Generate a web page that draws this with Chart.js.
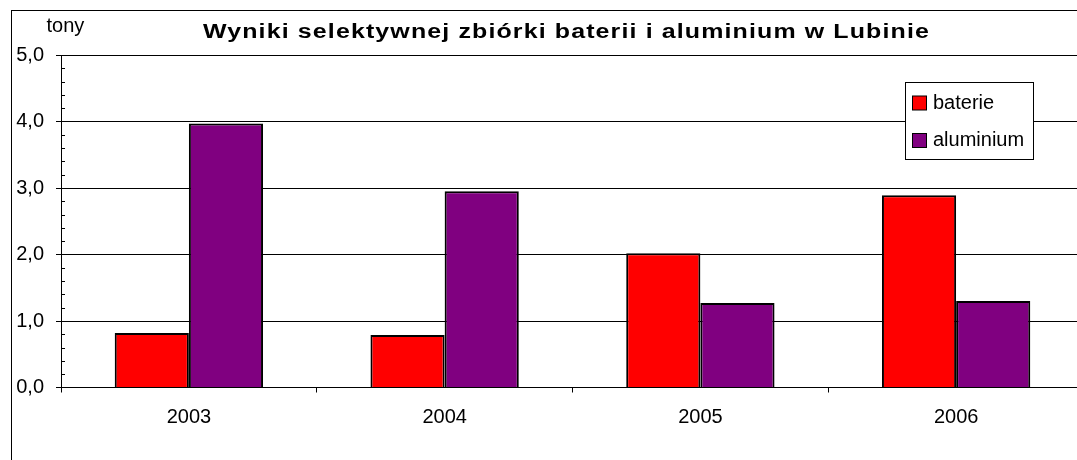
<!DOCTYPE html>
<html>
<head>
<meta charset="utf-8">
<script src="https://cdn.jsdelivr.net/npm/chart.js@4.4.0/dist/chart.umd.min.js"></script>
<style>
  html, body { margin: 0; padding: 0; overflow: hidden; background: #fff; width: 1077px; height: 460px; }
  #frame { position: absolute; left: 11px; top: 10px; border-left: 1px solid #000; border-top: 1px solid #000; }
  canvas { display: block; }
</style>
</head>
<body>
<div id="frame"><canvas id="barChart" width="1110" height="470"></canvas></div>
<script>
// Data
const years = ['2003', '2004', '2005', '2006'];
const baterie = [0.82, 0.79, 2.02, 2.89];
const aluminium = [3.97, 2.95, 1.27, 1.30];
const yTicks = [0, 1, 2, 3, 4, 5];

const FONT = 'Liberation Sans, Arial, sans-serif';
const TITLE = 'Wyniki selektywnej zbiórki baterii i aluminium w Lubinie';

// title, unit label, minor ticks and the legend box inside the plot
const extras = {
    id: 'extras',
    afterDraw(chart) {
        const ctx = chart.ctx;
        const y = chart.scales.y;
        const area = chart.chartArea;
        ctx.save();
        ctx.fillStyle = '#000';
        ctx.font = 'bold 20px ' + FONT;
        ctx.letterSpacing = '0.9px';
        ctx.textAlign = 'center';
        ctx.textBaseline = 'alphabetic';
        // the original title is drawn wider than plain Arial, stretch it a bit
        const sx = 727 / ctx.measureText(TITLE).width;
        ctx.save();
        ctx.translate(554.5, 27);
        ctx.scale(sx, 1);
        ctx.fillText(TITLE, 0, 0);
        ctx.restore();
        ctx.letterSpacing = '0px';

        ctx.font = '20px ' + FONT;
        ctx.textAlign = 'left';
        ctx.fillText('tony', 34.5, 20.5);

        // minor ticks every 0.2
        ctx.strokeStyle = '#000';
        ctx.lineWidth = 1;
        ctx.beginPath();
        for (let i = 1; i < 25; i++) {
            if (i % 5 === 0) continue;
            const py = Math.round(y.getPixelForValue(i / 5)) + 0.5;
            ctx.moveTo(area.left, py);
            ctx.lineTo(area.left + 4, py);
        }
        ctx.stroke();

        // legend
        ctx.fillStyle = '#fff';
        ctx.fillRect(893.5, 71.5, 128, 77);
        ctx.strokeRect(893.5, 71.5, 128, 77);
        const rows = [97.5, 135];
        chart.data.datasets.forEach((ds, i) => {
            ctx.fillStyle = ds.backgroundColor;
            ctx.fillRect(900.5, rows[i] - 12.5, 14, 14);
            ctx.strokeStyle = '#000';
            ctx.strokeRect(900.5, rows[i] - 12.5, 14, 14);
            ctx.fillStyle = '#000';
            ctx.fillText(ds.label, 921, rows[i]);
        });
        ctx.restore();
    }
};

new Chart(document.getElementById('barChart'), {
    type: 'bar',
    data: {
        labels: years,
        datasets: [
            { label: 'baterie', data: baterie, backgroundColor: '#FF0000', borderColor: '#000', borderWidth: 2 },
            { label: 'aluminium', data: aluminium, backgroundColor: '#800080', borderColor: '#000', borderWidth: 2 }
        ]
    },
    options: {
        responsive: false,
        devicePixelRatio: 1,
        animation: false,
        layout: { padding: { left: 0, top: 44, right: 38, bottom: 33.5 } },
        categoryPercentage: 0.58,
        barPercentage: 1,
        plugins: {
            legend: { display: false },
            title: { display: false },
            tooltip: { enabled: false }
        },
        scales: {
            x: {
                afterFit: s => { s.height = 60; },
                grid: { offset: true, drawOnChartArea: false, color: '#000', tickLength: 5 },
                border: { color: '#000' },
                ticks: { color: '#000', font: { family: FONT, size: 20 }, padding: 13 }
            },
            y: {
                min: 0,
                max: 5,
                afterFit: s => { s.width = 49; },
                afterBuildTicks: s => { s.ticks = yTicks.map(v => ({ value: v })); },
                grid: { color: '#000', tickLength: 5 },
                border: { color: '#000' },
                ticks: {
                    color: '#000',
                    font: { family: FONT, size: 20 },
                    padding: 12,
                    callback: v => v.toFixed(1).replace('.', ',')
                }
            }
        }
    },
    plugins: [extras]
});
</script>
</body>
</html>
